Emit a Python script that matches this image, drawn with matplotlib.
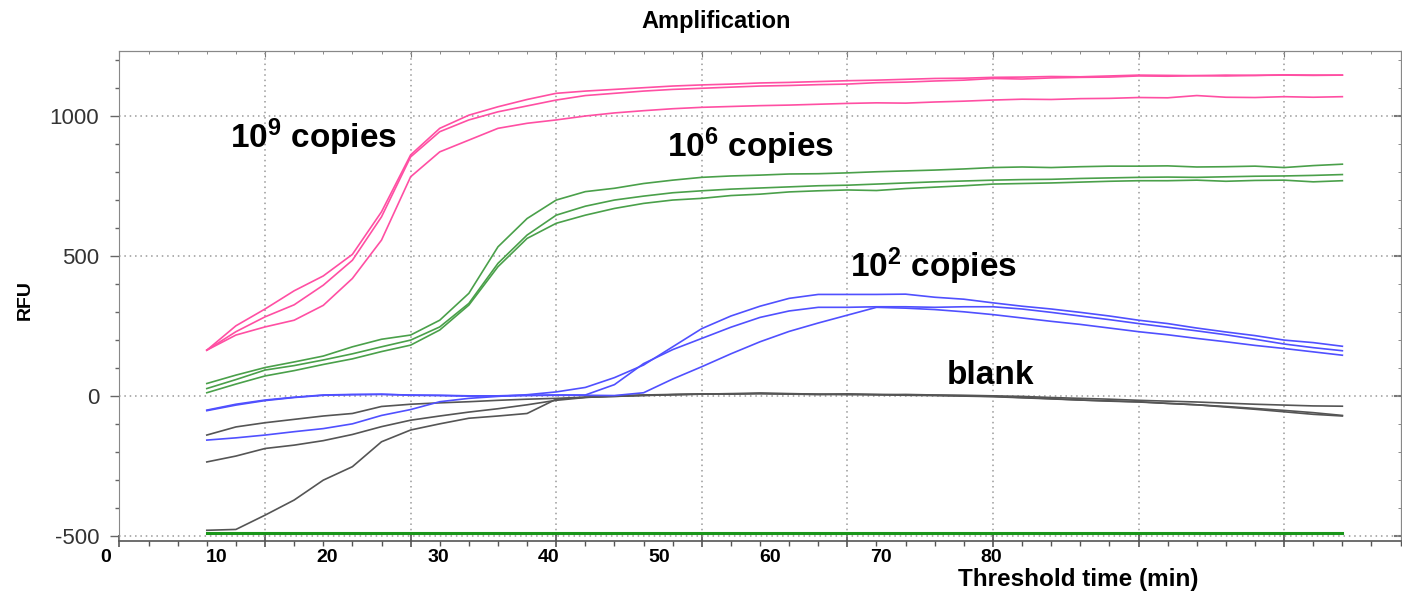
import numpy as np
import matplotlib
matplotlib.use('Agg')
import matplotlib.pyplot as plt
from matplotlib.ticker import MultipleLocator

plt.rcParams['font.family'] = ['Liberation Sans', 'DejaVu Sans']
plt.rcParams['mathtext.fontset'] = 'custom'
plt.rcParams['mathtext.rm'] = 'Liberation Sans'
plt.rcParams['mathtext.bf'] = 'Liberation Sans:bold'
plt.rcParams['axes.unicode_minus'] = False

# Cycle numbers of the readings (one reading per cycle)
cycles = np.arange(3, 43)

# 10^9 copies
pink_a = [163, 250, 310, 375, 428, 505, 657, 860, 955, 1002, 1032, 1058, 1080, 1088, 1094, 1100, 1106, 1110, 1113, 1117,
          1119, 1122, 1125, 1127, 1130, 1133, 1134, 1137, 1138, 1140, 1139, 1142, 1145, 1144, 1143, 1145, 1144, 1146, 1145, 1145]
pink_b = [163, 229, 282, 325, 395, 484, 639, 853, 943, 985, 1014, 1035, 1056, 1072, 1080, 1088, 1094, 1098, 1102, 1106,
          1108, 1111, 1113, 1118, 1120, 1124, 1127, 1133, 1131, 1135, 1137, 1138, 1142, 1141, 1143, 1142, 1144, 1145, 1144, 1145]
pink_c = [163, 217, 246, 270, 323, 419, 556, 782, 871, 913, 955, 973, 985, 999, 1010, 1018, 1025, 1030, 1033, 1036,
          1038, 1041, 1044, 1046, 1045, 1049, 1052, 1056, 1059, 1058, 1061, 1062, 1065, 1064, 1072, 1066, 1065, 1068, 1066, 1068]

# 10^6 copies
green_a = [44, 74, 101, 121, 142, 175, 202, 217, 270, 366, 532, 633, 699, 729, 741, 758, 770, 780, 785, 788,
           792, 793, 796, 800, 803, 806, 810, 815, 817, 815, 818, 820, 820, 821, 817, 818, 820, 815, 822, 827]
green_b = [26, 58, 92, 108, 128, 150, 175, 199, 246, 330, 473, 574, 645, 677, 699, 713, 725, 732, 738, 742,
           746, 750, 752, 756, 760, 764, 767, 770, 772, 773, 776, 778, 780, 781, 780, 782, 784, 785, 787, 790]
green_c = [11, 42, 71, 90, 112, 132, 158, 181, 235, 324, 461, 562, 616, 645, 669, 687, 699, 705, 715, 720,
           728, 732, 735, 733, 740, 745, 750, 756, 758, 760, 763, 766, 768, 768, 770, 766, 769, 770, 764, 768]

# 10^2 copies
blue_a = [-158, -150, -140, -128, -117, -100, -70, -49, -21, -9, -2, 4, 14, 30, 65, 110, 175, 240, 285, 320,
          348, 362, 362, 362, 363, 352, 345, 332, 320, 310, 298, 285, 270, 258, 242, 228, 215, 199, 190, 177]
blue_b = [-51, -30, -15, -5, 3, 5, 5, 3, 2, 0, 0, 2, 3, 3, 40, 115, 165, 205, 245, 280,
          303, 316, 316, 318, 318, 316, 318, 318, 310, 298, 285, 272, 258, 245, 232, 218, 202, 185, 172, 161]
blue_c = [-53, -33, -17, -6, 2, 4, 6, 2, 1, -1, 0, 1, 2, 2, 1, 11, 60, 104, 150, 193,
          230, 260, 288, 316, 313, 308, 300, 290, 278, 266, 255, 242, 229, 218, 205, 193, 180, 169, 157, 145]

# blank
black_a = [-140, -111, -96, -84, -72, -63, -38, -30, -25, -21, -16, -12, -9, -5, -2, 1, 4, 6, 8, 8,
           6, 5, 7, 4, 5, 3, 2, 0, -2, -6, -9, -12, -16, -19, -22, -26, -30, -33, -36, -37]
black_b = [-236, -215, -188, -176, -160, -138, -110, -87, -72, -58, -46, -32, -16, -6, 0, 3, 5, 6, 7, 10,
           8, 6, 4, 5, 3, 2, 0, -2, -6, -10, -15, -19, -22, -27, -32, -38, -45, -52, -60, -70]
black_c = [-480, -477, -426, -372, -301, -253, -164, -122, -100, -80, -72, -63, -12, -5, -2, 2, 4, 7, 6, 8,
           7, 5, 6, 4, 2, 1, -1, -3, -7, -11, -15, -18, -21, -27, -32, -40, -48, -57, -66, -72]

# flat well at the bottom
baseline = [-490] * 40

# labels written under the axis, in minutes
time_labels = [0, 10, 20, 30, 40, 50, 60, 70, 80]


def min_to_cycle(m):
    # where the minute labels sit along the cycle axis
    return -0.46 + 0.38 * m


fig = plt.figure(figsize=(14.02, 5.94), dpi=100)
ax = fig.add_axes([0.0852, 0.0884, 0.9138, 0.8257])

lw = 1.2
for ys in (black_a, black_b, black_c):
    ax.plot(cycles, ys, color='#555555', lw=lw)
for ys in (blue_a, blue_b, blue_c):
    ax.plot(cycles, ys, color='#5050ff', lw=lw)
for ys in (green_a, green_b, green_c):
    ax.plot(cycles, ys, color='#4aa04a', lw=lw)
for ys in (pink_a, pink_b, pink_c):
    ax.plot(cycles, ys, color='#ff4fa3', lw=lw)
ax.plot(cycles, baseline, color='#1a961a', lw=2.2)

ax.set_xlim(0, 44)
ax.set_ylim(-520, 1231)

# ticks and grid
ax.xaxis.set_major_locator(MultipleLocator(5))
ax.xaxis.set_minor_locator(MultipleLocator(1))
ax.yaxis.set_major_locator(MultipleLocator(500))
ax.yaxis.set_minor_locator(MultipleLocator(100))
ax.tick_params(axis='x', which='major', direction='inout', length=9, width=1.2, color='#555555', labelbottom=False)
ax.tick_params(axis='x', which='minor', direction='out', length=3.5, width=1, color='#555555')
ax.tick_params(axis='y', which='major', direction='out', length=6.5, width=1, color='#666666',
               labelsize=16, labelcolor='#333333', pad=8)
ax.tick_params(axis='y', which='minor', direction='out', length=3, width=1, color='#666666')
ax.grid(True, which='major', linestyle=(0, (1, 2.5)), color='#999999', linewidth=1.1)

for side in ('left', 'top', 'right'):
    ax.spines[side].set_color('#888888')
ax.spines['bottom'].set_color('#555555')
ax.spines['bottom'].set_linewidth(1.2)

top = ax.secondary_xaxis('top')
top.xaxis.set_major_locator(MultipleLocator(5))
top.xaxis.set_minor_locator(MultipleLocator(1))
top.tick_params(which='major', direction='in', length=4, color='#777777', labeltop=False)
top.tick_params(which='minor', direction='in', length=2.5, color='#777777')
top.spines['top'].set_color('#888888')

right = ax.secondary_yaxis('right')
right.yaxis.set_major_locator(MultipleLocator(500))
right.yaxis.set_minor_locator(MultipleLocator(100))
right.tick_params(which='major', direction='in', length=5, width=1.5, color='#777777', labelright=False)
right.tick_params(which='minor', direction='in', length=2.5, color='#777777')
right.spines['right'].set_color('#888888')

# minute labels under the axis
xt = ax.get_xaxis_transform()
for m in time_labels:
    ax.text(min_to_cycle(m), -0.015, str(m), transform=xt, ha='center', va='top',
            fontsize=14, fontweight='bold', clip_on=False)
ax.text(32.94, -0.078, 'Threshold time (min)', transform=xt, ha='center', va='center',
        fontsize=17.5, fontweight='bold')

# group labels
ax.text(3.8, 883, r'$\mathbf{10^9}$ copies', fontsize=24, fontweight='bold')
ax.text(18.8, 851, r'$\mathbf{10^6}$ copies', fontsize=24, fontweight='bold')
ax.text(25.1, 423, r'$\mathbf{10^2}$ copies', fontsize=24, fontweight='bold')
ax.text(28.4, 44, 'blank', fontsize=24, fontweight='bold')

fig.text(0.511, 0.963, 'Amplification', ha='center', va='center', fontsize=17, fontweight='bold')
fig.text(25 / 1402, 1 - 300 / 594, 'RFU', rotation=90, ha='center', va='center', fontsize=14, fontweight='bold')

fig.savefig('out.png', dpi=100)
